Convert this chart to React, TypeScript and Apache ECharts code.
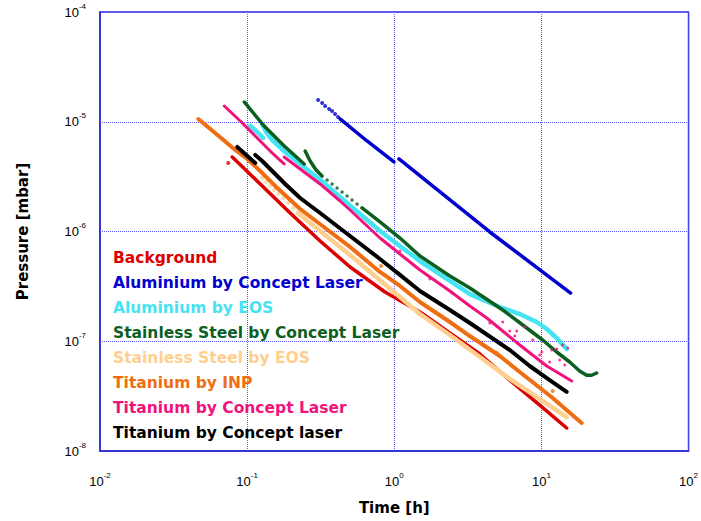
import React, { useEffect, useRef } from "react";
import * as echarts from "echarts";

type Pt = [number, number];

const SERIES_NAMES = [
  "Background",
  "Aluminium by Concept Laser",
  "Aluminium by EOS",
  "Stainless Steel by Concept Laser",
  "Stainless Steel by EOS",
  "Titanium by INP",
  "Titanium by Concept Laser",
  "Titanium by Concept laser",
];
const COLORS = ["#dd0000", "#0000d0", "#46e3f3", "#0d5f1f", "#ffcf8f", "#f06e12", "#f2127c", "#000000"];

const X_EXP_RANGE = [-2, 2];
const Y_EXP_RANGE = [-8, -4];

// Background
const backgroundLine: Pt[] = [[0.0792, 4.77e-6], [0.1227, 2.71e-6], [0.1961, 1.474e-6], [0.3133, 8.19e-7], [0.5005, 4.75e-7], [0.865, 2.81e-7], [1.494, 1.847e-7], [2.387, 1.189e-7], [3.814, 7.65e-8], [6.095, 4.43e-8], [9.739, 2.62e-8], [14.85, 1.62e-8]];
const backgroundDots: Pt[] = [[0.0744, 4.21e-6]];

// Aluminium by Concept Laser
const aluCLDots: Pt[] = [[0.3037, 1.58e-5], [0.3232, 1.482e-5], [0.3388, 1.391e-5], [0.3606, 1.307e-5], [0.3779, 1.253e-5], [0.396, 1.177e-5], [0.415, 1.105e-5]];
const aluCLLine1: Pt[] = [[0.4281, 1.06e-5], [0.6527, 6.68e-6], [0.995, 4.3e-6]];
const aluCLLine2: Pt[] = [[1.076, 4.58e-6], [1.339, 3.63e-6], [4.46, 9.9e-7], [15.8, 2.75e-7]];

// Aluminium by EOS
const aluEOSLine1: Pt[] = [[0.105, 9.15e-6], [0.1153, 8.24e-6], [0.1286, 7.11e-6]];
const aluEOSLine2: Pt[] = [[0.1266, 9.54e-6], [0.1348, 8.06e-6], [0.148, 6.82e-6], [0.1814, 5.3e-6], [0.2292, 4.12e-6], [0.3283, 2.82e-6], [0.4281, 2.06e-6], [0.5853, 1.443e-6], [0.7997, 1.011e-6], [1.093, 7.38e-7], [1.494, 5.38e-7], [2.387, 3.54e-7], [3.264, 2.69e-7], [5.213, 2.05e-7], [7.125, 1.771e-7], [9.293, 1.497e-7], [10.86, 1.293e-7], [12.7, 1.071e-7], [14.85, 8.5e-8]];

// Stainless Steel by Concept Laser
const ssCLLine1: Pt[] = [[0.0956, 1.514e-5], [0.1286, 9.34e-6], [0.1757, 6.14e-6], [0.244, 4.12e-6]];
const ssCLLine2: Pt[] = [[0.2479, 5.41e-6], [0.268, 4.39e-6], [0.2943, 3.63e-6], [0.3232, 3.2e-6]];
const ssCLDots: Pt[] = [[0.3496, 2.94e-6], [0.3779, 2.71e-6], [0.4086, 2.49e-6], [0.4417, 2.29e-6], [0.4777, 2.11e-6], [0.5164, 1.936e-6], [0.5584, 1.78e-6]];
const ssCLLine3: Pt[] = [[0.6037, 1.64e-6], [0.7997, 1.221e-6], [1.093, 8.72e-7], [1.494, 5.98e-7], [2.387, 3.93e-7], [3.264, 3.06e-7], [5.463, 1.926e-7], [7.47, 1.406e-7], [10.2, 1.027e-7], [12.7, 7.98e-8], [15.56, 6.47e-8], [18.19, 5.36e-8], [20.29, 4.9e-8], [21.94, 4.9e-8], [23.73, 5.14e-8]];

// Stainless Steel by EOS
const ssEOSDots: Pt[] = [[0.1266, 3.07e-6], [0.1348, 2.82e-6], [0.1434, 2.6e-6], [0.1527, 2.39e-6], [0.1626, 2.2e-6], [0.1757, 2.02e-6], [0.19, 1.82e-6], [0.2055, 1.64e-6]];
const ssEOSLine: Pt[] = [[0.2222, 1.474e-6], [0.3133, 1.011e-6], [0.5005, 6.11e-7], [0.7398, 3.93e-7], [1.093, 2.53e-7], [1.494, 1.771e-7], [2.387, 1.14e-7], [3.814, 7.19e-8], [6.095, 4.53e-8], [9.739, 2.98e-8], [14.85, 2.04e-8]];

// Titanium by INP
const tiINPLine: Pt[] = [[0.04658, 1.059e-5], [0.0562, 8.59e-6], [0.0678, 6.97e-6], [0.083, 5.53e-6], [0.1002, 4.58e-6], [0.1227, 3.56e-6], [0.1551, 2.6e-6], [0.2292, 1.603e-6], [0.3388, 1.076e-6], [0.5005, 7.23e-7], [0.7997, 4.28e-7], [1.093, 3.19e-7], [1.494, 2.28e-7], [2.387, 1.497e-7], [3.264, 1.116e-7], [5.213, 7.34e-8], [7.125, 5.25e-8], [11.93, 3.04e-8], [18.77, 1.8e-8]];
const tiINPDots: Pt[] = [[0.8124, 4.85e-7], [4.975, 7.81e-8], [11.93, 3.52e-8]];

// Titanium by Concept Laser (pink)
const tiCLLine1: Pt[] = [[0.0699, 1.391e-5], [0.0898, 1.016e-5], [0.1135, 7.42e-6], [0.1434, 5.41e-6], [0.1785, 4.12e-6]];
const tiCLLine2: Pt[] = [[0.1785, 4.77e-6], [0.2292, 3.71e-6], [0.3133, 2.71e-6], [0.4281, 1.896e-6], [0.5005, 1.57e-6], [0.7997, 8.72e-7], [1.093, 6.24e-7], [1.494, 4.46e-7], [2.387, 2.87e-7], [3.264, 2.095e-7], [4.255, 1.628e-7], [7.125, 9.24e-8], [10.86, 5.95e-8], [16.06, 4.34e-8]];
const tiCLDots: Pt[] = [[1.093, 6.64e-7], [1.747, 3.69e-7], [2.463, 2.75e-7], [4.46, 1.466e-7], [4.975, 1.377e-7], [5.463, 1.497e-7], [6.095, 1.24e-7], [6.8, 1.24e-7], [7.7, 1.348e-7], [8.73, 1.027e-7], [10.05, 7.98e-8], [11.75, 8.32e-8], [12.7, 8.5e-8], [13.95, 9.24e-8], [15.09, 8.68e-8], [14.39, 6.07e-8], [13.31, 6.75e-8], [6.59, 1.116e-7], [9.739, 7.49e-8], [11.38, 6.47e-8]];

// Titanium by Concept laser (black)
const tiCL2Line1: Pt[] = [[0.0857, 5.89e-6], [0.0986, 4.98e-6], [0.1135, 4.21e-6]];
const tiCL2Line2: Pt[] = [[0.1135, 4.98e-6], [0.1266, 4.39e-6], [0.1434, 3.71e-6], [0.1814, 2.71e-6], [0.2292, 2.02e-6], [0.3133, 1.474e-6], [0.5005, 9.1e-7], [0.7997, 5.62e-7], [1.093, 4.02e-7], [1.494, 2.87e-7], [2.387, 1.926e-7], [3.264, 1.466e-7], [6.095, 8.32e-8], [8.329, 5.95e-8], [11.38, 4.43e-8], [14.85, 3.45e-8]];

const LINE_WIDTHS = [3.5, 3.5, 4.5, 3.5, 4.5, 4, 3, 4];

function line(idx: number, data: Pt[]) {
  return {
    type: "line",
    name: SERIES_NAMES[idx],
    data,
    showSymbol: false,
    symbol: "none",
    smooth: false,
    color: COLORS[idx],
    lineStyle: { color: COLORS[idx], width: LINE_WIDTHS[idx], cap: "round", join: "round" },
    z: 2 + idx,
  };
}
function dots(idx: number, data: Pt[], size: number) {
  return {
    type: "scatter",
    name: SERIES_NAMES[idx],
    data,
    symbol: "circle",
    symbolSize: size,
    color: COLORS[idx],
    itemStyle: { color: COLORS[idx] },
    z: 2 + idx,
  };
}

const tickFormatter = (v: number) => {
  const e = Math.round(Math.log10(v));
  return `{b|10}{s|${e}}`;
};
const tickRich = {
  b: { fontSize: 13, fontFamily: "Liberation Sans", color: "#000", lineHeight: 20, verticalAlign: "middle" },
  s: { fontSize: 8, fontFamily: "Liberation Sans", color: "#000", lineHeight: 8, verticalAlign: "top" },
};

export default function App() {
  const ref = useRef<HTMLDivElement>(null);
  useEffect(() => {
    if (!ref.current) return;
    const chart = echarts.init(ref.current, undefined, { renderer: "svg" });
    chart.setOption({
      animation: false,
      backgroundColor: "#ffffff",
      grid: { left: 100, right: 12, top: 12, bottom: 70, show: true, borderColor: "#2a2ad0", borderWidth: 1.5 },
      legend: {
        orient: "vertical",
        left: 103,
        top: 244,
        itemGap: 7,
        itemWidth: 0,
        itemHeight: 0,
        icon: "rect",
        selectedMode: false,
        textStyle: { fontFamily: "DejaVu Sans", fontWeight: "bold", fontSize: 15.5, lineHeight: 18 },
        data: SERIES_NAMES.map((n, i) => ({ name: n, textStyle: { color: COLORS[i] } })),
      },
      xAxis: {
        type: "log",
        logBase: 10,
        min: Math.pow(10, X_EXP_RANGE[0]),
        max: Math.pow(10, X_EXP_RANGE[1]),
        name: "Time [h]",
        nameLocation: "middle",
        nameGap: 49,
        nameTextStyle: { fontFamily: "DejaVu Sans", fontWeight: "bold", fontSize: 15, color: "#000" },
        axisLine: { show: true, lineStyle: { color: "#2a2ad0", width: 1.5 } },
        axisTick: { show: false },
        axisLabel: { margin: 20, formatter: tickFormatter, rich: tickRich },
        splitLine: { show: true, lineStyle: { color: "#5a5aff", type: "dotted", width: 1 } },
        minorTick: { show: false },
      },
      yAxis: {
        type: "log",
        logBase: 10,
        min: Math.pow(10, Y_EXP_RANGE[0]),
        max: Math.pow(10, Y_EXP_RANGE[1]),
        name: "Pressure [mbar]",
        nameLocation: "middle",
        nameGap: 70,
        nameTextStyle: { fontFamily: "DejaVu Sans", fontWeight: "bold", fontSize: 15, color: "#000" },
        axisLine: { show: true, lineStyle: { color: "#2a2ad0", width: 1.5 } },
        axisTick: { show: false },
        axisLabel: { margin: 14, formatter: tickFormatter, rich: tickRich },
        splitLine: { show: true, lineStyle: { color: "#5a5aff", type: "dotted", width: 1 } },
      },
      series: [
        line(0, backgroundLine),
        dots(0, backgroundDots, 4),
        dots(1, aluCLDots, 4),
        line(1, aluCLLine1),
        line(1, aluCLLine2),
        line(2, aluEOSLine1),
        line(2, aluEOSLine2),
        line(3, ssCLLine1),
        line(3, ssCLLine2),
        dots(3, ssCLDots, 3.5),
        line(3, ssCLLine3),
        dots(4, ssEOSDots, 4),
        line(4, ssEOSLine),
        line(5, tiINPLine),
        dots(5, tiINPDots, 4),
        line(6, tiCLLine1),
        line(6, tiCLLine2),
        dots(6, tiCLDots, 3),
        line(7, tiCL2Line1),
        line(7, tiCL2Line2),
      ],
    });
    return () => chart.dispose();
  }, []);
  return <div ref={ref} style={{ position: "fixed", left: 0, top: 0, width: 701, height: 521 }} />;
}
